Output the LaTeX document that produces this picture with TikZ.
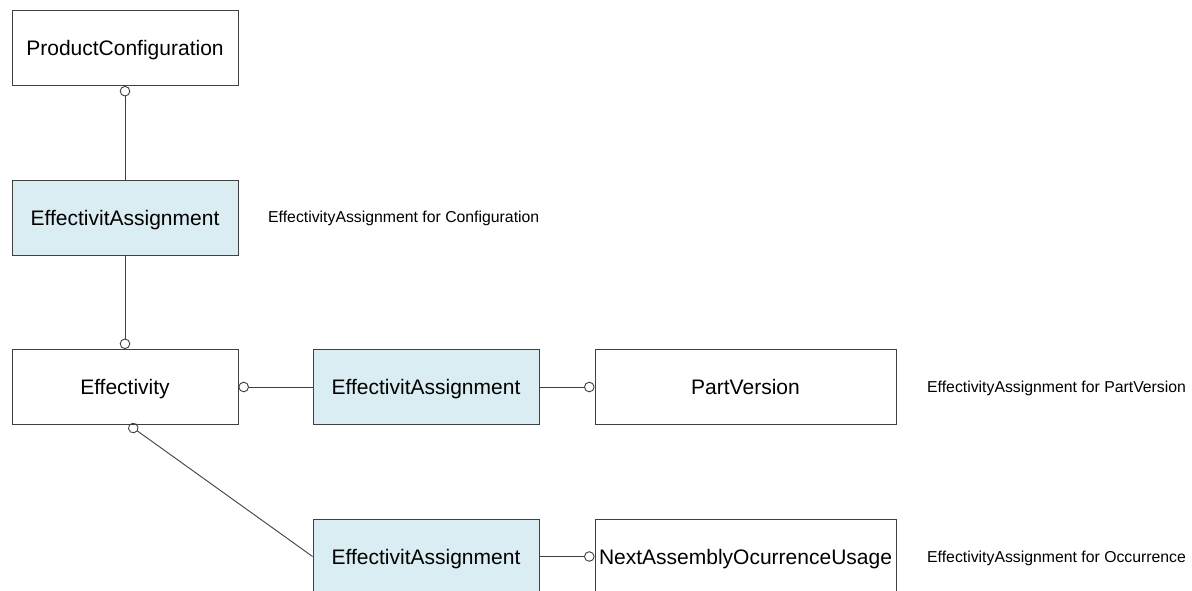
\documentclass[tikz,border=0pt]{standalone}
\usepackage{fontspec}
\setmainfont{Liberation Sans}
\usetikzlibrary{arrows.meta}
\definecolor{eafill}{HTML}{DAEDF3}
\definecolor{edge}{HTML}{404040}
\tikzset{
  box/.style={draw=edge, line width=0.9pt, fill=white, minimum height=75pt, inner sep=0pt,
    text height=15pt, text depth=0pt, font=\fontsize{21}{25}\selectfont},
  wbox/.style={box, minimum width=226pt},
  pbox/.style={box, minimum width=301pt},
  abox/.style={box, minimum width=226pt, fill=eafill},
  conn/.style={draw=edge, line width=0.9pt},
  lbl/.style={anchor=west, inner sep=0pt, text height=11.3pt, text depth=0pt, font=\fontsize{15.8}{19}\selectfont}
}
\begin{document}
\begin{tikzpicture}[x=1pt,y=-1pt, >={Circle[open,length=10.5pt,width=10.5pt]}]
\useasboundingbox (0,0) rectangle (1192,590);
\clip (0,0) rectangle (1192,590);
\fill[white] (0,0) rectangle (1192,590);
\node[wbox] (pc) at (125,48) {ProductConfiguration};
\node[abox] (ea1) at (125,217.5) {EffectivitAssignment};
\node[wbox] (eff) at (125,387) {Effectivity};
\node[abox] (ea2) at (426,387) {EffectivitAssignment};
\node[pbox] (pv) at (745.5,387) {PartVersion};
\node[abox] (ea3) at (426,556.5) {EffectivitAssignment};
\node[pbox] (na) at (745.5,556.5) {NextAssemblyOcurrenceUsage};
\node[lbl] (l1) at (268,217) {EffectivityAssignment for Configuration};
\node[lbl] (l2) at (927,387) {EffectivityAssignment for PartVersion};
\node[lbl] (l3) at (927,557) {EffectivityAssignment for Occurrence};
\draw[conn, <-] (pc.south) -- (ea1.north);
\draw[conn, ->] (ea1.south) -- (eff.north);
\draw[conn, <-] (eff.east) -- (ea2.west);
\draw[conn, ->] (ea2.east) -- (pv.west);
\draw[conn, <-] ([xshift=4pt]eff.south) -- (ea3.west);
\draw[conn, ->] (ea3.east) -- (na.west);
\end{tikzpicture}
\end{document}
